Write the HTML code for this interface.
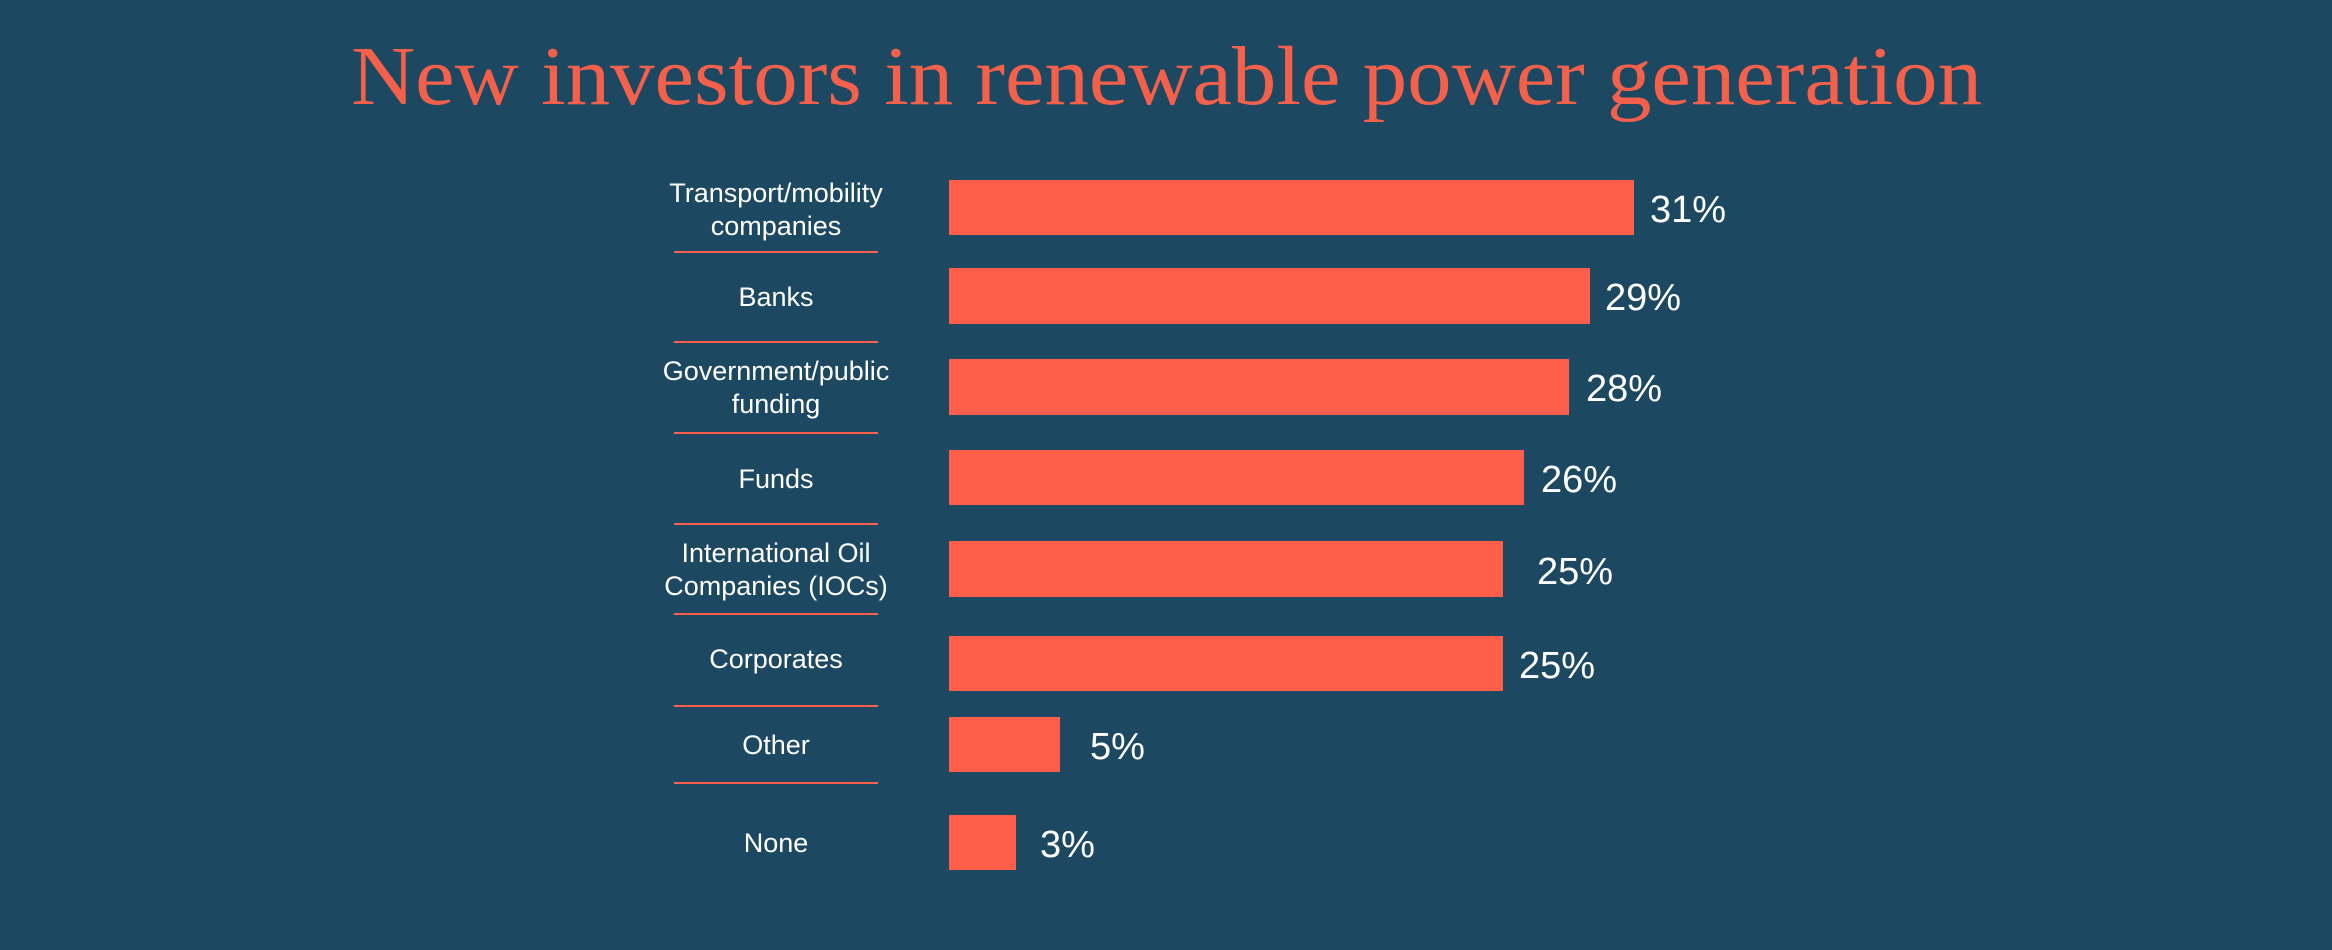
<!DOCTYPE html>
<html><head><meta charset="utf-8"><style>
html,body{margin:0;padding:0;background:#1c4861;}
svg{display:block}
</style></head><body>
<svg width="2332" height="950" viewBox="0 0 2332 950" xmlns="http://www.w3.org/2000/svg">
<rect width="2332" height="950" fill="#1c4861"/>
<text x="351" y="104" font-family="Liberation Serif, serif" font-size="84" fill="#f5604b" textLength="1631" lengthAdjust="spacingAndGlyphs">New investors in renewable power generation</text>
<g fill="#ff5f4a">
<rect x="949" y="180" width="685" height="55"/>
<rect x="949" y="268" width="641" height="56"/>
<rect x="949" y="359" width="620" height="56"/>
<rect x="949" y="450" width="575" height="55"/>
<rect x="949" y="541" width="554" height="56"/>
<rect x="949" y="636" width="554" height="55"/>
<rect x="949" y="717" width="111" height="55"/>
<rect x="949" y="815" width="67" height="55"/>
</g>
<g fill="#ff5f4a">
<rect x="674" y="251" width="204" height="2"/>
<rect x="674" y="341" width="204" height="2"/>
<rect x="674" y="432" width="204" height="2"/>
<rect x="674" y="523" width="204" height="2"/>
<rect x="674" y="613" width="204" height="2"/>
<rect x="674" y="705" width="204" height="2"/>
<rect x="674" y="782" width="204" height="2"/>
</g>
<g font-family="Liberation Sans, sans-serif" font-size="38" fill="#ffffff">
<text x="1650" y="222">31%</text>
<text x="1605" y="310">29%</text>
<text x="1586" y="401">28%</text>
<text x="1541" y="492">26%</text>
<text x="1537" y="584">25%</text>
<text x="1519" y="678">25%</text>
<text x="1090" y="759">5%</text>
<text x="1040" y="857">3%</text>
</g>
<g font-family="Liberation Sans, sans-serif" font-size="27" fill="#ffffff" text-anchor="middle">
<text x="776" y="202">Transport/mobility</text>
<text x="776" y="235">companies</text>
<text x="776" y="306">Banks</text>
<text x="776" y="380">Government/public</text>
<text x="776" y="413">funding</text>
<text x="776" y="488">Funds</text>
<text x="776" y="562">International Oil</text>
<text x="776" y="595">Companies (IOCs)</text>
<text x="776" y="668">Corporates</text>
<text x="776" y="754">Other</text>
<text x="776" y="852">None</text>
</g>
</svg>
</body></html>
